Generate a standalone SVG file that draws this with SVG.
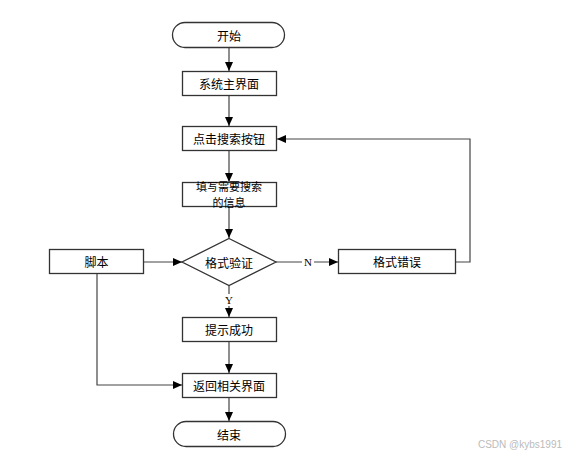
<svg xmlns="http://www.w3.org/2000/svg" width="569" height="455" viewBox="0 0 569 455">
<defs>
<marker id="arr" markerWidth="10" markerHeight="8" refX="9" refY="4" orient="auto" markerUnits="userSpaceOnUse">
<path d="M0,0 L9,4 L0,8 z" fill="#000"/>
</marker>
<style>
.n{fill:#fff;stroke:#333;stroke-width:1.3}
.t{font-family:"Noto Sans CJK SC","Microsoft YaHei",sans-serif;font-size:12px;fill:#000;text-anchor:middle;dominant-baseline:central}
.s{font-size:11px}
.c{fill:none;stroke:#444;stroke-width:1.2}
.l{font-family:"Liberation Serif",serif;font-size:11px;fill:#000;text-anchor:middle;dominant-baseline:central}
</style>
</defs>
<rect width="569" height="455" fill="#fff"/>
<g id="connectors">
<path class="c" d="M229,48 V71" marker-end="url(#arr)"/>
<path class="c" d="M229,96 V126" marker-end="url(#arr)"/>
<path class="c" d="M229,151 V182" marker-end="url(#arr)"/>
<path class="c" d="M229,207 V238" marker-end="url(#arr)"/>
<path class="c" d="M144,262 H182" marker-end="url(#arr)"/>
<path class="c" d="M276,262 H338" marker-end="url(#arr)"/>
<path class="c" d="M456,262 H470 V139 H277" marker-end="url(#arr)"/>
<path class="c" d="M229,286 V317" marker-end="url(#arr)"/>
<path class="c" d="M229,342 V373" marker-end="url(#arr)"/>
<path class="c" d="M97,274 V385 H182" marker-end="url(#arr)"/>
<path class="c" d="M229,397 V421" marker-end="url(#arr)"/>
<rect x="302" y="256" width="12" height="12" fill="#fff"/>
<text class="l" x="308" y="262">N</text>
<rect x="224" y="294" width="10" height="12" fill="#fff"/>
<text class="l" x="229" y="300">Y</text>
</g>
<g id="start">
<rect class="n" x="172.5" y="22.5" width="112" height="25" rx="12.5"/>
<text class="t" x="229" y="35">开始</text>
</g>
<g id="main">
<rect class="n" x="182.5" y="71.5" width="94" height="24"/>
<text class="t" x="229" y="83.5">系统主界面</text>
</g>
<g id="click">
<rect class="n" x="182.5" y="126.5" width="94" height="24"/>
<text class="t" x="229" y="138.5">点击搜索按钮</text>
</g>
<g id="fill">
<rect class="n" x="182.5" y="182.5" width="94" height="24"/>
<text class="t s" x="229" y="186">填写需要搜索</text>
<text class="t s" x="229" y="202">的信息</text>
</g>
<g id="verify">
<polygon class="n" points="229,238.5 276,262 229,285.5 182,262"/>
<text class="t" x="229" y="262">格式验证</text>
</g>
<g id="script">
<rect class="n" x="49.5" y="249.5" width="94" height="24"/>
<text class="t" x="96.5" y="261.5">脚本</text>
</g>
<g id="error">
<rect class="n" x="338.5" y="249.5" width="117" height="24"/>
<text class="t" x="397" y="261.5">格式错误</text>
</g>
<g id="success">
<rect class="n" x="182.5" y="317.5" width="94" height="24"/>
<text class="t" x="229" y="329.5">提示成功</text>
</g>
<g id="back">
<rect class="n" x="182.5" y="373.5" width="94" height="24"/>
<text class="t" x="229" y="385.5">返回相关界面</text>
</g>
<g id="end">
<rect class="n" x="173.5" y="421.5" width="112" height="25" rx="12.5"/>
<text class="t" x="229" y="434">结束</text>
</g>
<text x="520" y="444" font-family="Liberation Sans,sans-serif" font-size="10" fill="#bbb" text-anchor="middle" dominant-baseline="central">CSDN @kybs1991</text>
</svg>
